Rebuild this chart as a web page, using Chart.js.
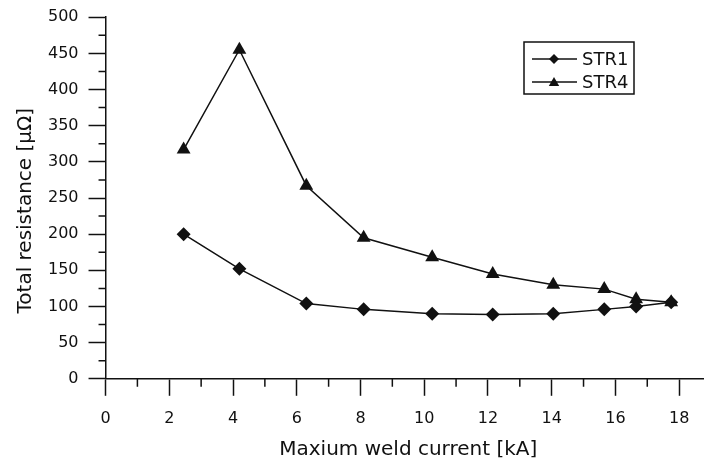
<!DOCTYPE html>
<html>
<head>
<meta charset="utf-8">
<script src="https://cdn.jsdelivr.net/npm/chart.js@4"></script>
<style>
  html, body { margin: 0; padding: 0; background: #fff; overflow: hidden; }
  #wrap { width: 704px; height: 462px; overflow: hidden; }
</style>
</head>
<body>
<div id="wrap"><canvas id="chart" width="724" height="462"></canvas></div>
<script>
// weld current values (kA), shared by both series
const current = [2.45, 4.2, 6.3, 8.1, 10.25, 12.15, 14.05, 15.65, 16.65, 17.75];
// total resistance (micro-ohm)
const str1 = [200, 152, 104, 96, 90, 89, 90, 96, 100, 106];
const str4 = [317, 455, 267, 195, 168, 145, 130, 124, 110, 106];
const seriesNames = ['STR1', 'STR4'];

const xTitle = 'Maxium weld current [kA]';
// trailing spaces push the rotated title a little lower, as in the original
const yTitle = 'Total resistance [\u03BC\u03A9]    ';

const FONT = 'DejaVu Sans';
const INK = '#111';

function pts(ys) {
    return current.map((x, i) => ({ x: x, y: ys[i] }));
}

// minor ticks (shorter) drawn on top of the axis scales
const minorTicks = {
    id: 'minorTicks',
    afterDraw(chart) {
        const ctx = chart.ctx;
        const xs = chart.scales.x, ys = chart.scales.y;
        ctx.save();
        ctx.strokeStyle = INK;
        ctx.lineWidth = 1.5;
        ctx.beginPath();
        xs.ticks.forEach(t => {
            if (t.value % 2 !== 0) {
                const px = xs.getPixelForValue(t.value);
                ctx.moveTo(px, xs.top);
                ctx.lineTo(px, xs.top + 8);
            }
        });
        ys.ticks.forEach(t => {
            if (t.value % 50 !== 0) {
                const py = ys.getPixelForValue(t.value);
                ctx.moveTo(ys.right, py);
                ctx.lineTo(ys.right - 7, py);
            }
        });
        ctx.stroke();
        ctx.restore();
    }
};

// boxed legend with line + marker samples, like the original plot
const boxLegend = {
    id: 'boxLegend',
    afterDraw(chart) {
        const ctx = chart.ctx;
        const bx = 524, by = 42, bw = 110, bh = 52;
        ctx.save();
        ctx.strokeStyle = INK;
        ctx.lineWidth = 1.5;
        ctx.strokeRect(bx, by, bw, bh);
        chart.data.datasets.forEach((ds, i) => {
            const cy = by + 17 + i * 23;
            ctx.strokeStyle = INK;
            ctx.lineWidth = 1.5;
            ctx.beginPath();
            ctx.moveTo(bx + 8, cy);
            ctx.lineTo(bx + 53, cy);
            ctx.stroke();
            ctx.fillStyle = INK;
            Chart.helpers.drawPoint(ctx, {
                pointStyle: ds.pointStyle,
                radius: ds.pointStyle === 'triangle' ? 6 : 5,
                borderWidth: 0
            }, bx + 30, cy + (ds.pointStyle === 'triangle' ? 1 : 0));
            ctx.fillStyle = INK;
            ctx.font = '18px "' + FONT + '"';
            ctx.textBaseline = 'middle';
            ctx.textAlign = 'left';
            ctx.fillText(ds.label, bx + 58, cy + 1);
        });
        ctx.restore();
    }
};

new Chart(document.getElementById('chart').getContext('2d'), {
    type: 'scatter',
    data: {
        datasets: [
            {
                label: seriesNames[0],
                data: pts(str1),
                showLine: true,
                borderColor: INK,
                borderWidth: 1.5,
                pointStyle: 'rectRot',
                pointRadius: 7,
                pointBorderWidth: 0,
                pointBackgroundColor: INK
            },
            {
                label: seriesNames[1],
                data: pts(str4),
                showLine: true,
                borderColor: INK,
                borderWidth: 1.5,
                pointStyle: 'triangle',
                pointRadius: 8,
                pointBorderWidth: 0,
                pointBackgroundColor: INK
            }
        ]
    },
    options: {
        responsive: false,
        animation: false,
        devicePixelRatio: 1,
        layout: { padding: { top: 0, right: 0, left: 0, bottom: 0 } },
        plugins: {
            legend: { display: false },
            tooltip: { enabled: false }
        },
        scales: {
            x: {
                type: 'linear',
                min: 0,
                max: 19,
                border: { display: true, color: INK, width: 1.5 },
                grid: {
                    drawOnChartArea: false,
                    drawTicks: true,
                    tickLength: 17,
                    tickWidth: 1.5,
                    tickColor: c => (c.tick && c.tick.value % 2 === 0) ? INK : 'rgba(0,0,0,0)'
                },
                ticks: {
                    stepSize: 1,
                    autoSkip: false,
                    maxRotation: 0,
                    padding: 13,
                    color: INK,
                    font: { family: FONT, size: 16 },
                    callback: v => (v % 2 === 0 ? String(v) : '')
                },
                title: {
                    display: true,
                    text: xTitle,
                    color: INK,
                    font: { family: FONT, size: 20, lineHeight: 0.9 },
                    padding: { top: 0, bottom: 3 }
                }
            },
            y: {
                min: 0,
                max: 500,
                border: { display: true, color: INK, width: 1.5 },
                grid: {
                    drawOnChartArea: false,
                    drawTicks: true,
                    tickLength: 17,
                    tickWidth: 1.5,
                    tickColor: c => (c.tick && c.tick.value % 50 === 0) ? INK : 'rgba(0,0,0,0)'
                },
                ticks: {
                    stepSize: 25,
                    autoSkip: false,
                    padding: 10,
                    color: INK,
                    font: { family: FONT, size: 16, lineHeight: 0.9 },
                    callback: v => (v % 50 === 0 ? String(v) : '')
                },
                title: {
                    display: true,
                    text: yTitle,
                    color: INK,
                    font: { family: FONT, size: 20 },
                    padding: { top: 14, bottom: 0 }
                }
            }
        }
    },
    plugins: [minorTicks, boxLegend]
});
</script>
</body>
</html>
